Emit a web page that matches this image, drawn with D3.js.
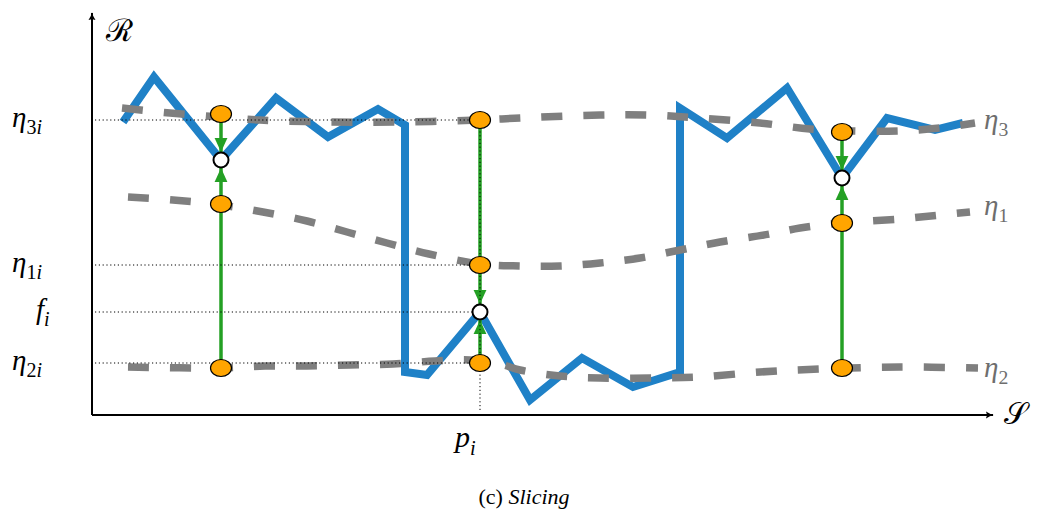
<!DOCTYPE html>
<html>
<head>
<meta charset="utf-8">
<script src="https://cdnjs.cloudflare.com/ajax/libs/d3/7.8.5/d3.min.js"></script>
<style>
    body { margin: 0; background: #fff; }
</style>
</head>
<body>
<svg id="chart" width="1039" height="513" font-family="Liberation Serif"></svg>
<script>

// Data (S, R coordinates)
var signalS = [31, 62, 129, 184, 236, 286, 313, 313, 335, 388, 438, 490, 541, 588, 588, 635, 695, 750, 795, 843, 871];
var signalR = [293, 338, 255, 317, 278, 306, 290, 43, 40, 103, 15, 57, 28, 43, 307, 277, 327, 237, 297, 285, 292];

var eta3S = [30, 78, 128, 168, 238, 308, 388, 428, 508, 558, 608, 668, 718, 758, 808, 848, 883];
var eta3R = [307, 302, 298, 295, 293, 293, 295, 297, 300, 300, 297, 292, 286, 284, 284, 287, 292];

var eta1S = [36, 81, 129, 171, 215, 255, 295, 337, 388, 428, 468, 508, 548, 588, 628, 678, 708, 750, 808, 848, 878];
var eta1R = [218, 215, 210, 203, 194, 183, 172, 161, 151, 149, 149, 152, 157, 165, 173, 181, 187, 192, 196, 200, 203];

var eta2S = [36, 129, 173, 215, 258, 301, 343, 378, 408, 428, 468, 508, 558, 608, 668, 728, 808, 886];
var eta2R = [48, 47, 49, 49, 50, 51, 54, 55, 51, 45, 39, 37, 37, 38, 43, 46, 48, 47];

// slices: position, eta3, eta1, eta2, f
var sliceS = [129, 388, 750];
var sliceEta3 = [301, 295, 283];
var sliceEta1 = [211, 150, 192];
var sliceEta2 = [47, 52, 47];
var sliceF = [255, 103, 237];

var curveLabels = ['3', '1', '2'];
var curveLabelR = [286, 200, 38];

// the labelled slice (p_i)
var iSlice = 1;


var svg = d3.select('#chart');
var serif = 'Liberation Serif';

var x = d3.scaleLinear().domain([0, 900]).range([92, 992]);
var y = d3.scaleLinear().domain([0, 400]).range([415, 15]);

var blue = '#1f81c7',
    gray = '#7f7f7f',
    green = '#24a024',
    orange = '#ffa500';

var defs = svg.append('defs');
defs.append('marker')
    .attr('id', 'axisHead')
    .attr('viewBox', '0 0 10 10')
    .attr('refX', 9).attr('refY', 5)
    .attr('markerWidth', 8).attr('markerHeight', 8)
    .attr('markerUnits', 'userSpaceOnUse')
    .attr('orient', 'auto')
    .append('path')
    .attr('d', 'M0,0.5 Q5,4 10,5 Q5,6 0,9.5 Q2.5,5 0,0.5 Z')
    .attr('fill', '#000');
defs.append('marker')
    .attr('id', 'greenHead')
    .attr('viewBox', '0 0 12 12')
    .attr('refX', 12).attr('refY', 6)
    .attr('markerWidth', 14).attr('markerHeight', 14)
    .attr('markerUnits', 'userSpaceOnUse')
    .attr('orient', 'auto')
    .append('path')
    .attr('d', 'M0,0.5 L12,6 L0,11.5 Z')
    .attr('fill', green);

function zip(s, r) {
    return s.map(function(v, i){ return [v, r[i]]; });
}

var line = d3.line()
    .x(function(d){ return x(d[0]); })
    .y(function(d){ return y(d[1]); });

var smooth = d3.line()
    .x(function(d){ return x(d[0]); })
    .y(function(d){ return y(d[1]); })
    .curve(d3.curveCatmullRom);

// axes
svg.append('line')
    .attr('x1', x(0)).attr('y1', y(0))
    .attr('x2', x(901)).attr('y2', y(0))
    .attr('stroke', '#000').attr('stroke-width', 2)
    .attr('marker-end', 'url(#axisHead)');
svg.append('line')
    .attr('x1', x(0)).attr('y1', y(0))
    .attr('x2', x(0)).attr('y2', y(402))
    .attr('stroke', '#000').attr('stroke-width', 2)
    .attr('marker-end', 'url(#axisHead)');

// signal
svg.append('path')
    .datum(zip(signalS, signalR))
    .attr('d', line)
    .attr('fill', 'none')
    .attr('stroke', blue)
    .attr('stroke-width', 8)
    .attr('stroke-linejoin', 'miter');

// eta curves
[zip(eta3S, eta3R), zip(eta1S, eta1R), zip(eta2S, eta2R)].forEach(function(pts){
    svg.append('path')
        .datum(pts)
        .attr('d', smooth)
        .attr('fill', 'none')
        .attr('stroke', gray)
        .attr('stroke-width', 7.5)
        .attr('stroke-dasharray', '21,21');
});

// green arrows from eta3 / eta2 to f
var fr = 8;
sliceS.forEach(function(s, i){
    var yf = y(sliceF[i]);
    svg.append('line')
        .attr('x1', x(s)).attr('y1', y(sliceEta3[i]))
        .attr('x2', x(s)).attr('y2', yf - fr)
        .attr('stroke', green).attr('stroke-width', 3.5)
        .attr('marker-end', 'url(#greenHead)');
    svg.append('line')
        .attr('x1', x(s)).attr('y1', y(sliceEta2[i]))
        .attr('x2', x(s)).attr('y2', yf + fr)
        .attr('stroke', green).attr('stroke-width', 3.5)
        .attr('marker-end', 'url(#greenHead)');
});

// dotted guides for slice p_i
var guideR = [sliceEta3[iSlice], sliceEta1[iSlice], sliceF[iSlice], sliceEta2[iSlice]];
svg.selectAll('.guide')
    .data(guideR)
    .enter().append('line')
    .attr('x1', x(3)).attr('x2', x(sliceS[iSlice]))
    .attr('y1', function(d){ return y(d); })
    .attr('y2', function(d){ return y(d); })
    .attr('stroke', '#000').attr('stroke-width', 1)
    .attr('stroke-dasharray', '1.2,2.6');
svg.append('line')
    .attr('x1', x(sliceS[iSlice])).attr('x2', x(sliceS[iSlice]))
    .attr('y1', y(sliceEta3[iSlice])).attr('y2', y(4))
    .attr('stroke', '#000').attr('stroke-width', 1)
    .attr('stroke-dasharray', '1.2,2.6');

// points
sliceS.forEach(function(s, i){
    [sliceEta3[i], sliceEta1[i], sliceEta2[i]].forEach(function(r){
        svg.append('ellipse')
            .attr('cx', x(s)).attr('cy', y(r))
            .attr('rx', 10.5).attr('ry', 8.5)
            .attr('fill', orange)
            .attr('stroke', '#000').attr('stroke-width', 1.2);
    });
    svg.append('circle')
        .attr('cx', x(s)).attr('cy', y(sliceF[i]))
        .attr('r', 7.5)
        .attr('fill', '#fff')
        .attr('stroke', '#000').attr('stroke-width', 2);
});

// labels
function mathLabel(px, py, main, sub, color, size, italicSub) {
    var t = svg.append('text')
        .attr('x', px).attr('y', py)
        .attr('fill', color)
        .attr('font-family', serif)
        .attr('font-size', size);
    t.append('tspan').attr('font-style', 'italic').text(main);
    t.append('tspan')
        .attr('dy', size * 0.25)
        .attr('font-size', size * 0.68)
        .attr('font-style', italicSub ? 'italic' : 'normal')
        .text(sub);
    return t;
}

var leftNames = ['η', 'η', 'f', 'η'];
var leftSubs = ['3i', '1i', 'i', '2i'];
var leftX = [12, 12, 36, 12];
guideR.forEach(function(r, i){
    var t = svg.append('text')
        .attr('x', leftX[i]).attr('y', y(r) + 7)
        .attr('fill', '#000')
        .attr('font-family', serif)
        .attr('font-size', 29);
    t.append('tspan').attr('font-style', 'italic').text(leftNames[i]);
    var sub = leftSubs[i];
    if (sub.length === 2) {
        t.append('tspan').attr('dy', 7).attr('font-size', 20).text(sub[0]);
        t.append('tspan').attr('font-size', 20).attr('font-style', 'italic').text(sub[1]);
    } else {
        t.append('tspan').attr('dy', 7).attr('font-size', 20).attr('font-style', 'italic').text(sub);
    }
});

curveLabels.forEach(function(k, i){
    mathLabel(x(892), y(curveLabelR[i]), 'η', k, '#6e6e6e', 29, false);
});

mathLabel(x(363), y(-32), 'p', 'i', '#000', 30, true);

svg.append('text')
    .attr('x', x(14)).attr('y', y(374))
    .attr('font-family', serif)
    .attr('font-size', 31)
    .text('ℛ');
svg.append('text')
    .attr('x', x(912)).attr('y', y(-9))
    .attr('font-family', serif)
    .attr('font-size', 30)
    .text('𝒮');

var cap = svg.append('text')
    .attr('x', 524).attr('y', 504)
    .attr('text-anchor', 'middle')
    .attr('font-family', serif)
    .attr('font-size', 22);
cap.append('tspan').text('(c) ');
cap.append('tspan').attr('font-style', 'italic').text('Slicing');

</script>
</body>
</html>
